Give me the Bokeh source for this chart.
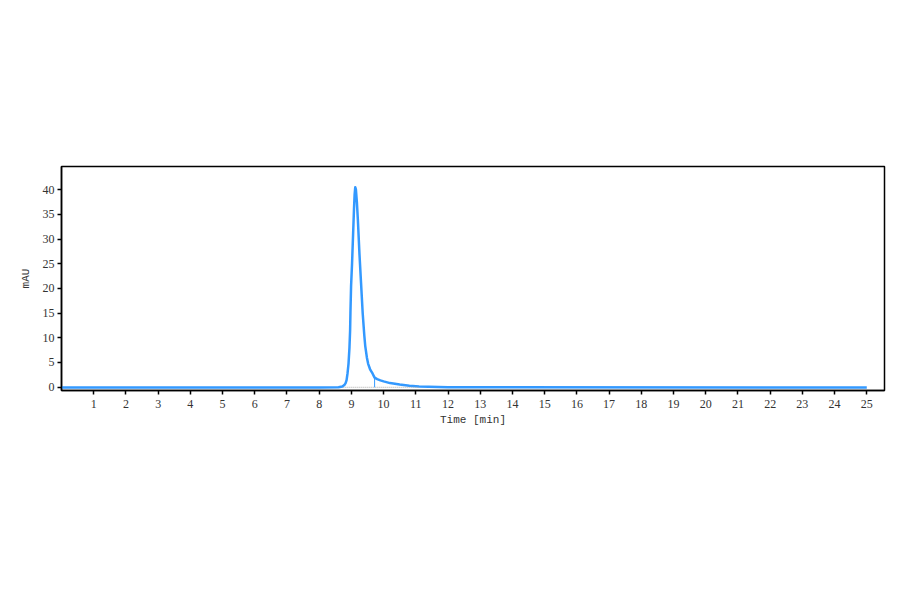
import numpy as np
from bokeh.plotting import figure
from bokeh.models import Range1d, FixedTicker
from bokeh.embed import file_html
from bokeh.resources import INLINE

# chromatogram trace
time_min = [0.0, 8.0, 8.6, 8.72, 8.78, 8.82, 8.85, 8.88, 8.91, 8.94, 8.96, 8.97,
            8.99, 9.02, 9.05, 9.08, 9.10, 9.12, 9.14, 9.17, 9.20, 9.25, 9.30,
            9.35, 9.40, 9.43, 9.48, 9.52, 9.58, 9.66, 9.72, 9.80, 9.90, 10.0,
            10.2, 10.5, 10.8, 11.1, 12.0, 25.0]
mau = [-0.1, -0.1, -0.05, 0.1, 0.4, 0.8, 1.4, 2.8, 4.7, 8.0, 11.5, 15.0,
       20.5, 25.0, 30.5, 36.0, 39.0, 40.5, 40.0, 37.5, 34.0, 27.0, 21.0,
       15.0, 10.5, 8.3, 6.0, 4.7, 3.6, 2.7, 1.9, 1.6, 1.35, 1.15,
       0.8, 0.5, 0.25, 0.1, -0.05, -0.1]

# integration marks
drop_time = 9.72
drop_top = 1.9
base_start, base_end = 8.75, 11.1

x_ticks = list(range(1, 26))
y_ticks = [0, 5, 10, 15, 20, 25, 30, 35, 40]

TICK_FONT = "Liberation Serif"
LABEL_FONT = "Liberation Mono"
BLUE = "#3399ff"

p = figure(frame_width=823, frame_height=224,
           min_border_left=61, min_border_top=166,
           min_border_right=8, min_border_bottom=196,
           x_range=Range1d(0, 25.55), y_range=Range1d(-0.7, 44.7),
           output_backend="svg", toolbar_location=None)

p.line(time_min, mau, line_color=BLUE, line_width=2.5, line_join="round")
p.segment(x0=[base_start], y0=[-0.05], x1=[base_end], y1=[-0.05],
          line_color="#aaaaaa", line_width=1, line_dash="1 1")
p.segment(x0=[drop_time], y0=[-0.05], x1=[drop_time], y1=[drop_top],
          line_color=BLUE, line_width=1)

p.xgrid.visible = False
p.ygrid.visible = False
p.outline_line_color = "black"
p.outline_line_width = 1.5
p.outline_line_alpha = 1

p.xaxis.ticker = FixedTicker(ticks=x_ticks)
p.yaxis.ticker = FixedTicker(ticks=y_ticks)
p.xaxis.axis_label = "Time [min]"
p.yaxis.axis_label = "mAU"

for ax in (p.xaxis, p.yaxis):
    ax.axis_line_color = "black"
    ax.axis_line_width = 1.5
    ax.major_tick_line_color = "black"
    ax.major_tick_line_width = 1.5
    ax.major_tick_in = 0
    ax.major_tick_out = 4
    ax.minor_tick_line_color = None
    ax.major_label_text_font = TICK_FONT
    ax.major_label_text_font_size = "12px"
    ax.major_label_text_color = "#333333"
    ax.axis_label_text_font = LABEL_FONT
    ax.axis_label_text_font_size = "11px"
    ax.axis_label_text_font_style = "normal"
    ax.axis_label_text_color = "#333333"

p.xaxis.major_label_standoff = 5
p.xaxis.axis_label_standoff = 3
p.yaxis.major_label_standoff = 3
p.yaxis.axis_label_standoff = 8

open("out.html", "w").write(file_html(p, INLINE))
